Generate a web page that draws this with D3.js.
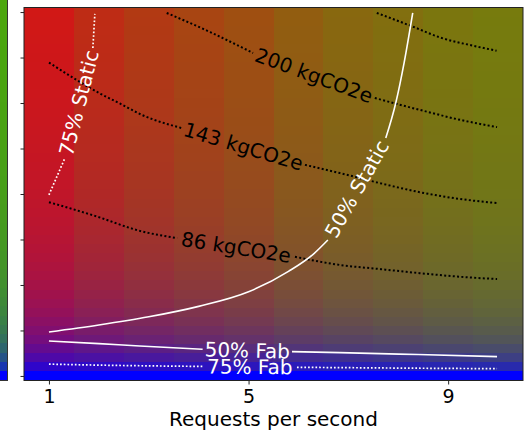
<!DOCTYPE html>
<html>
<head>
<meta charset="utf-8">
<script src="https://cdn.jsdelivr.net/npm/d3@7"></script>
<style>
  body { margin: 0; background: #fff; }
  svg { display: block; font-family: "DejaVu Sans", sans-serif; }
</style>
</head>
<body>
<svg id="chart" width="526" height="430"></svg>
<script>
// columns: requests per second
const requests = [1, 2, 3, 4, 5, 6, 7, 8, 9, 10];
// rows of the grid (y axis, its labels are cut off in the picture)
const rows = [0, 0.2, 0.4, 0.6, 0.8, 1, 1.2, 1.4, 1.6, 1.8, 2, 2.2, 2.4, 2.6, 2.8, 3,
  3.2, 3.4, 3.6, 3.8, 4, 4.2, 4.4, 4.6, 4.8, 5, 5.2, 5.4, 5.6, 5.8, 6, 6.2, 6.4, 6.6,
  6.8, 7, 7.2, 7.4, 7.6, 7.8, 8];

// per column: y value where fab makes half of the total
const fabHalf = [0.77, 0.71, 0.655, 0.6, 0.565, 0.535, 0.51, 0.485, 0.455, 0.425];
// per column: static part of the operational emissions
const staticPart = [0.898, 0.813, 0.756, 0.709, 0.667, 0.61, 0.568, 0.54, 0.51, 0.49];

// last column of the neighbouring panel (left edge of the picture)
const stripFabHalf = 0.45;
const stripStaticPart = 0.31;

const xTicks = [1, 5, 9];
const yTicks = [0, 1, 2, 3, 4, 5, 6, 7, 8];

// contour lines as [requests, y]; a gap between segments holds the label
const contours = [
  { label: "200 kgCO2e", kind: "total", segs: [
    [[3.36, 7.98], [4.23, 7.56], [5.09, 7.10]],
    [[7.53, 6.11], [8.43, 5.85], [9.24, 5.63], [9.98, 5.47]]] },
  { label: null, kind: "total", segs: [
    [[7.57, 7.98], [8.29, 7.68], [8.84, 7.44], [9.50, 7.26], [9.97, 7.15]]] },
  { label: "143 kgCO2e", kind: "total", segs: [
    [[1, 6.89], [1.55, 6.51], [2.02, 6.21], [2.42, 5.99], [2.86, 5.74], [3.66, 5.45]],
    [[6.13, 4.64], [6.83, 4.46], [7.63, 4.24], [8.43, 4.04], [9.24, 3.89], [9.98, 3.80]]] },
  { label: "86 kgCO2e", kind: "total", segs: [
    [[1, 3.82], [1.92, 3.52], [2.82, 3.19], [3.57, 3.03]],
    [[5.93, 2.62], [6.83, 2.44], [7.63, 2.35], [8.43, 2.26], [9.24, 2.18], [9.98, 2.13]]] },
  { label: "50% Static", kind: "solid", segs: [
    [[1, 0.967], [2, 1.12], [3, 1.3], [4, 1.53], [5, 1.85], [5.8, 2.3], [6.3, 2.68], [6.59, 2.99]],
    [[7.75, 5.23], [7.95, 6.0], [8.12, 6.9], [8.29, 7.98]]] },
  { label: "75% Static", kind: "dotted", segs: [
    [[1, 3.98], [1.32, 4.79]],
    [[1.88, 7.21], [1.92, 7.96]]] },
  { label: "50% Fab", kind: "solid", segs: [
    [[1, 0.769], [2, 0.71], [2.82, 0.659], [4.08, 0.587]],
    [[5.87, 0.534], [6.83, 0.512], [8.4, 0.47], [9.98, 0.424]]] },
  { label: "75% Fab", kind: "dotted", segs: [
    [[1, 0.26], [2, 0.238], [3, 0.222], [4.08, 0.21]],
    [[5.97, 0.19], [6.83, 0.183], [8.4, 0.17], [9.98, 0.16]]] }
];

const svg = d3.select("#chart");
const margin = { left: 24, right: 3, top: 7.5, bottom: 49.5 };
const W = +svg.attr("width"), H = +svg.attr("height");

const x = d3.scaleLinear().domain([0.5, 10.5]).range([margin.left, W - margin.right]);
const y = d3.scaleLinear().domain([-0.1, 8.1]).range([H - margin.bottom, margin.top]);
const yStrip = d3.scaleLinear().domain([-0.1, 8.1]).range([H - margin.bottom, 0]);

// shares of static / dynamic / fab -> red / green / blue
function cellColor(c, half, stat) {
  const fab = half / (half + c);
  const op = 1 - fab;
  return d3.rgb(255 * stat * op, 255 * (1 - stat) * op, 255 * fab).toString();
}

// neighbour strip
svg.append("g")
  .selectAll("rect")
  .data(rows)
  .join("rect")
  .attr("x", 0)
  .attr("width", 7.5)
  .attr("y", d => yStrip(d + 0.1))
  .attr("height", d => yStrip(d - 0.1) - yStrip(d + 0.1))
  .attr("fill", d => cellColor(d, stripFabHalf, stripStaticPart))
  .attr("shape-rendering", "crispEdges");
svg.append("line")
  .attr("x1", 7.5).attr("x2", 7.5).attr("y1", 0).attr("y2", H - margin.bottom)
  .attr("stroke", "#333").attr("stroke-width", 1);
svg.append("line")
  .attr("x1", 0).attr("x2", 8).attr("y1", H - margin.bottom).attr("y2", H - margin.bottom)
  .attr("stroke", "#333").attr("stroke-width", 1);

// heat map cells
const cells = [];
requests.forEach((r, i) => rows.forEach(c => cells.push({ r, c, i })));
svg.append("g")
  .selectAll("rect")
  .data(cells)
  .join("rect")
  .attr("x", d => x(d.r - 0.5))
  .attr("width", d => x(d.r + 0.5) - x(d.r - 0.5))
  .attr("y", d => y(d.c + 0.1))
  .attr("height", d => y(d.c - 0.1) - y(d.c + 0.1))
  .attr("fill", d => cellColor(d.c, fabHalf[d.i], staticPart[d.i]))
  .attr("shape-rendering", "crispEdges");

// contour lines and inline labels
const line = d3.line().x(d => x(d[0])).y(d => y(d[1])).curve(d3.curveMonotoneX);
const styles = {
  total: { stroke: "#000", width: 2, dash: "2,2.3", text: "#000" },
  solid: { stroke: "#fff", width: 1.6, dash: null, text: "#fff" },
  dotted: { stroke: "#fff", width: 1.7, dash: "1.7,2", text: "#fff" }
};

const lines = svg.append("g");
contours.forEach(ct => {
  const st = styles[ct.kind];
  ct.segs.forEach(seg => {
    lines.append("path")
      .attr("d", line(seg))
      .attr("fill", "none")
      .attr("stroke", st.stroke)
      .attr("stroke-width", st.width)
      .attr("stroke-dasharray", st.dash);
  });
  if (ct.label) {
    const a = ct.segs[0][ct.segs[0].length - 1];
    const b = ct.segs[1][0];
    const ax = x(a[0]), ay = y(a[1]), bx = x(b[0]), by = y(b[1]);
    const cx = (ax + bx) / 2, cy = (ay + by) / 2;
    let ang = Math.atan2(by - ay, bx - ax) * 180 / Math.PI;
    if (ang > 90) ang -= 180;
    if (ang < -90) ang += 180;
    lines.append("text")
      .attr("transform", `translate(${cx},${cy}) rotate(${ang})`)
      .attr("text-anchor", "middle")
      .attr("dominant-baseline", "central")
      .attr("font-size", 20)
      .attr("fill", st.text)
      .text(ct.label);
  }
});

// axes
const xAxis = svg.append("g")
  .attr("transform", `translate(0,${H - margin.bottom})`)
  .call(d3.axisBottom(x).tickValues(xTicks).tickSize(4).tickPadding(5).tickFormat(d3.format("d")));
xAxis.select(".domain").remove();
xAxis.selectAll("text").attr("font-size", 19).attr("font-family", "DejaVu Sans").attr("fill", "#000");
xAxis.selectAll("line").attr("stroke", "#222");

const yAxis = svg.append("g")
  .attr("transform", `translate(${margin.left},0)`)
  .call(d3.axisLeft(y).tickValues(yTicks).tickSize(3.5).tickFormat(""));
yAxis.select(".domain").remove();
yAxis.selectAll("line").attr("stroke", "#222");

// frame
svg.append("rect")
  .attr("x", margin.left).attr("y", margin.top)
  .attr("width", W - margin.right - margin.left)
  .attr("height", H - margin.bottom - margin.top)
  .attr("fill", "none").attr("stroke", "#222").attr("stroke-width", 1);

svg.append("text")
  .attr("x", (margin.left + W - margin.right) / 2)
  .attr("y", 426)
  .attr("text-anchor", "middle")
  .attr("font-size", 20)
  .attr("fill", "#000")
  .text("Requests per second");
</script>
</body>
</html>
